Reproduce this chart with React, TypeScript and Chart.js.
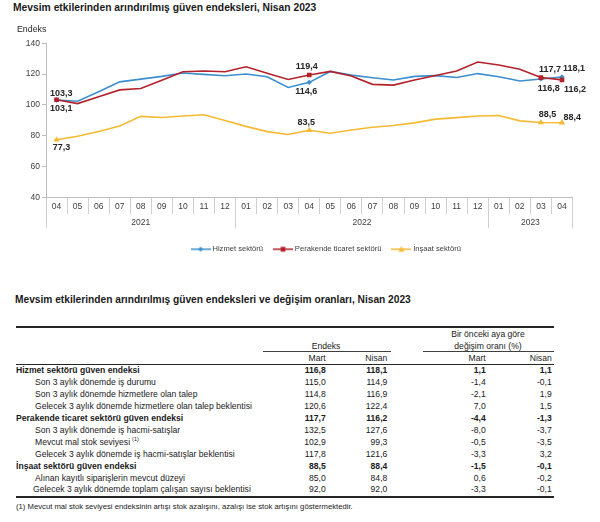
import React, { useEffect, useRef } from 'react';
import { Chart, registerables } from 'chart.js';

Chart.register(...registerables);

const FONT = '"Liberation Sans", Arial, Helvetica, sans-serif';

// ---------- chart data ----------
const MONTHS = ['04', '05', '06', '07', '08', '09', '10', '11', '12', '01', '02', '03', '04', '05', '06', '07', '08', '09', '10', '11', '12', '01', '02', '03', '04'];
const YEARS = ['2021', '2022', '2023'];
const YEAR_MONTH_COUNTS = [9, 12, 4];
const SERIES_NAMES = ['Hizmet sektörü', 'Perakende ticaret sektörü', 'İnşaat sektörü'];
const HIZMET = [103.1, 102.3, 108.5, 114.9, 116.7, 118.5, 120.7, 119.8, 118.9, 120.0, 118.2, 111.3, 114.6, 121.7, 119.3, 117.6, 116.1, 118.5, 119.0, 117.8, 120.3, 118.2, 115.5, 116.8, 118.1];
const PERAKENDE = [103.3, 100.8, 105.3, 109.7, 110.6, 116.0, 121.5, 122.0, 121.5, 124.7, 120.5, 116.5, 119.4, 121.7, 118.8, 113.3, 112.8, 116.1, 119.1, 122.0, 127.8, 125.9, 123.1, 117.7, 116.2];
const INSAAT = [77.3, 79.6, 82.7, 86.2, 92.5, 91.8, 92.7, 93.6, 89.8, 86.0, 82.6, 80.7, 83.5, 81.5, 83.7, 85.4, 86.6, 88.3, 90.7, 91.7, 92.7, 93.1, 89.6, 88.5, 88.4];
const Y_MIN = 40;
const Y_MAX = 140;
const Y_STEP = 20;
const MARKED_INDEXES = [0, 12, 23, 24];
const CHART_TITLE = 'Mevsim etkilerinden arındırılmış güven endeksleri, Nisan 2023';
const Y_AXIS_TITLE = 'Endeks';

// ---------- table data ----------
const TABLE_TITLE = 'Mevsim etkilerinden arındırılmış güven endeksleri ve değişim oranları, Nisan 2023';
const HEAD_INDEX = 'Endeks';
const HEAD_CHANGE = ['Bir önceki aya göre', 'değişim oranı (%)'];
const HEAD_MONTHS = ['Mart', 'Nisan'];
const ROW_LABELS = [
  'Hizmet sektörü güven endeksi',
  'Son 3 aylık dönemde iş durumu',
  'Son 3 aylık dönemde hizmetlere olan talep',
  'Gelecek 3 aylık dönemde hizmetlere olan talep beklentisi',
  'Perakende ticaret sektörü güven endeksi',
  'Son 3 aylık dönemde iş hacmi-satışlar',
  'Mevcut mal stok seviyesi',
  'Gelecek 3 aylık dönemde iş hacmi-satışlar beklentisi',
  'İnşaat sektörü güven endeksi',
  'Alınan kayıtlı siparişlerin mevcut düzeyi',
  'Gelecek 3 aylık dönemde toplam çalışan sayısı beklentisi',
];
const ROW_IS_TOTAL = [true, false, false, false, true, false, false, false, true, false, false];
const ROW_NOTE = ['', '', '', '', '', '', '(1)', '', '', '', ''];
const INDEX_MART = [116.8, 115.0, 114.8, 120.6, 117.7, 132.5, 102.9, 117.8, 88.5, 85.0, 92.0];
const INDEX_NISAN = [118.1, 114.9, 116.9, 122.4, 116.2, 127.6, 99.3, 121.6, 88.4, 84.8, 92.0];
const CHANGE_MART = [1.1, -1.4, -2.1, 7.0, -4.4, -8.0, -0.5, -3.3, -1.5, 0.6, -3.3];
const CHANGE_NISAN = [1.1, -0.1, 1.9, 1.5, -1.3, -3.7, -3.5, 3.2, -0.1, -0.2, -0.1];
const FOOTNOTE = '(1) Mevcut mal stok seviyesi endeksinin artışı stok azalışını, azalışı ise stok artışını göstermektedir.';

// ---------- styles ----------
const COLORS = ['#3b8fd0', '#b3222b', '#f6b932'];
const POINT_STYLES = ['rectRot', 'rect', 'triangle'];
const POINT_RADII = [2.6, 3.3, 3.6];
const DRAW_ORDER = [1, 0, 2];
const VALUE_LABELS = [
  { ds: 1, i: 0, dx: 4.8, dy: -6.3 },
  { ds: 0, i: 0, dx: 4.8, dy: 8.6 },
  { ds: 2, i: 0, dx: 5, dy: 8 },
  { ds: 1, i: 12, dx: -2.4, dy: -8.5 },
  { ds: 0, i: 12, dx: -3, dy: 9.2 },
  { ds: 2, i: 12, dx: -3, dy: -7.4 },
  { ds: 1, i: 23, dx: 9, dy: -7.8 },
  { ds: 0, i: 23, dx: 7.8, dy: 9.3 },
  { ds: 2, i: 23, dx: 6.6, dy: -7.7 },
  { ds: 0, i: 24, dx: 12, dy: -8.7 },
  { ds: 1, i: 24, dx: 13, dy: 9.3 },
  { ds: 2, i: 24, dx: 10.4, dy: -4.7 },
];
const LEGEND_SHIFT = 32;
const ROW_Y0 = 371;
const ROW_H = 11.9;
const COL_RIGHT = [325.7, 387.3, 485.7, 551.7];

const fmt = (v: number) => v.toFixed(1).replace('.', ',');

function makeIcon(color: string, style: string) {
  const c = document.createElement('canvas');
  c.width = 20;
  c.height = 8;
  const g = c.getContext('2d') as CanvasRenderingContext2D;
  g.strokeStyle = color;
  g.lineWidth = 1.5;
  g.beginPath();
  g.moveTo(0, 4);
  g.lineTo(20, 4);
  g.stroke();
  g.fillStyle = color;
  g.beginPath();
  if (style === 'rect') {
    g.rect(7.6, 1.6, 4.8, 4.8);
  } else if (style === 'rectRot') {
    g.moveTo(10, 1.4);
    g.lineTo(12.6, 4);
    g.lineTo(10, 6.6);
    g.lineTo(7.4, 4);
    g.closePath();
  } else {
    g.moveTo(10, 1);
    g.lineTo(13, 6.6);
    g.lineTo(7, 6.6);
    g.closePath();
  }
  g.fill();
  return c;
}

const valueLabelsPlugin = {
  id: 'valueLabels',
  afterDatasetsDraw(chart: any) {
    const ctx = chart.ctx;
    ctx.save();
    ctx.font = `bold 9px ${FONT}`;
    ctx.fillStyle = '#262626';
    ctx.textAlign = 'center';
    ctx.textBaseline = 'middle';
    VALUE_LABELS.forEach(({ ds, i, dx, dy }) => {
      const pt = chart.getDatasetMeta(ds).data[i];
      const v = chart.data.datasets[ds].data[i];
      if (pt) ctx.fillText(fmt(v), pt.x + dx, pt.y + dy);
    });
    ctx.restore();
  },
};

const legendShiftPlugin = {
  id: 'legendShift',
  afterLayout(chart: any) {
    const l = chart.legend;
    if (l) {
      l.left += LEGEND_SHIFT;
      l.right += LEGEND_SHIFT;
    }
  },
};

function ChartBlock() {
  const ref = useRef<HTMLCanvasElement | null>(null);
  useEffect(() => {
    if (!ref.current) return;
    const boundaries: number[] = [];
    const centers: number[] = [];
    let start = 0;
    YEAR_MONTH_COUNTS.forEach((n) => {
      boundaries.push(start - 0.5);
      centers.push((start + start + n - 1) / 2);
      start += n;
    });
    boundaries.push(start - 0.5);
    const allYearTicks = [...boundaries, ...centers].sort((a, b) => a - b);
    const isBoundary = (v: number) => boundaries.some((b) => Math.abs(b - v) < 1e-6);

    const series = [HIZMET, PERAKENDE, INSAAT];
    const icons = COLORS.map((c, i) => makeIcon(c, POINT_STYLES[i]));
    const datasets = series.map((data, k) => ({
      label: SERIES_NAMES[k],
      data,
      borderColor: COLORS[k],
      backgroundColor: COLORS[k],
      borderWidth: 1.6,
      pointStyle: POINT_STYLES[k],
      pointRadius: data.map((_, i) => (MARKED_INDEXES.includes(i) ? POINT_RADII[k] : 0)),
      pointHoverRadius: 0,
      pointBorderWidth: 0,
      tension: 0,
      order: DRAW_ORDER[k],
      xAxisID: 'x',
      yAxisID: 'y',
    }));

    const chart = new Chart(ref.current, {
      type: 'line',
      data: { labels: MONTHS, datasets },
      plugins: [valueLabelsPlugin, legendShiftPlugin],
      options: {
        responsive: false,
        animation: false,
        events: [],
        layout: { padding: { left: 17, right: 27.5, top: 10.7, bottom: 2 } },
        plugins: {
          title: {
            display: true,
            text: Y_AXIS_TITLE,
            align: 'start',
            color: '#262626',
            font: { size: 8.8, weight: 'normal', family: FONT },
            padding: { top: 0, bottom: 8 },
          },
          legend: {
            position: 'bottom',
            labels: {
              usePointStyle: true,
              pointStyleWidth: 16,
              padding: 12,
              color: '#404040',
              font: { size: 7.6, family: FONT },
              generateLabels: (ch: any) =>
                ch.data.datasets.map((ds: any, i: number) => ({
                  text: ds.label,
                  pointStyle: icons[i],
                  fillStyle: COLORS[i],
                  strokeStyle: COLORS[i],
                  lineWidth: 0,
                  hidden: false,
                  datasetIndex: i,
                  fontColor: '#404040',
                })),
            },
          },
          tooltip: { enabled: false },
        },
        scales: {
          x: {
            type: 'category',
            position: 'bottom',
            weight: 0,
            offset: true,
            grid: { offset: true, drawOnChartArea: false, tickLength: 17, color: '#d0d0d0', lineWidth: 1 },
            border: { display: true, color: '#bdbdbd' },
            ticks: { padding: -12.8, autoSkip: false, maxRotation: 0, color: '#404040', font: { size: 8.5, family: FONT } },
            afterFit: (s: any) => {
              s.height = 16.6;
            },
          },
          x2: {
            type: 'linear',
            position: 'bottom',
            weight: 1,
            min: -0.5,
            max: start - 0.5,
            afterBuildTicks: (s: any) => {
              s.ticks = allYearTicks.map((v) => ({ value: v }));
            },
            grid: {
              drawOnChartArea: false,
              tickLength: 14.4,
              color: (c: any) => (c.tick && isBoundary(c.tick.value) ? '#d0d0d0' : 'rgba(0,0,0,0)'),
              tickColor: (c: any) => (c.tick && isBoundary(c.tick.value) ? '#d0d0d0' : 'rgba(0,0,0,0)'),
            },
            border: { display: false },
            ticks: {
              autoSkip: false,
              maxRotation: 0,
              padding: -10.8,
              color: '#404040',
              font: { size: 8.5, family: FONT },
              callback: (v: any) => {
                const idx = centers.findIndex((c) => Math.abs(c - Number(v)) < 1e-6);
                return idx >= 0 ? YEARS[idx] : '';
              },
            },
            afterFit: (s: any) => {
              s.height = 19.6;
            },
          },
          y: {
            type: 'linear',
            position: 'left',
            min: Y_MIN,
            max: Y_MAX,
            grid: { drawOnChartArea: false, tickLength: 4, color: '#bdbdbd' },
            border: { display: true, color: '#bdbdbd' },
            ticks: { stepSize: Y_STEP, padding: 2, color: '#404040', font: { size: 8.5, family: FONT } },
            afterFit: (s: any) => {
              s.width = 29;
            },
          },
        },
      } as any,
    });
    return () => chart.destroy();
  }, []);
  return (
    <canvas
      ref={ref}
      width={600}
      height={251}
      style={{ position: 'absolute', left: 0, top: 14, width: 600, height: 251 }}
    />
  );
}

function Txt(props: { x: number; y: number; align?: string; size?: number; bold?: boolean; color?: string; children: any }) {
  const { x, y, align = 'left', size = 8.6, bold = false, color = '#1a1a1a', children } = props;
  const lh = Math.round(size * 1.3 * 10) / 10;
  const style: any = {
    position: 'absolute',
    top: y - lh / 2,
    fontSize: size,
    lineHeight: `${lh}px`,
    fontWeight: bold ? 'bold' : 'normal',
    whiteSpace: 'nowrap',
    color,
  };
  if (align === 'left') style.left = x;
  else if (align === 'right') style.right = 600 - x;
  else {
    style.left = x - 150;
    style.width = 300;
    style.textAlign = 'center';
  }
  return <div style={style}>{children}</div>;
}

function Line(props: { x1: number; x2: number; y: number; h?: number; color?: string }) {
  const { x1, x2, y, h = 1, color = '#262626' } = props;
  return <div style={{ position: 'absolute', left: x1, top: y - h / 2, width: x2 - x1, height: h, background: color }} />;
}

function TableBlock() {
  return (
    <>
      <Txt x={15} y={300} size={10.2} bold color="#1a1a1a">{TABLE_TITLE}</Txt>
      <Line x1={16} x2={554} y={326.7} h={1.7} />
      <Txt x={488} y={335} align="center">{HEAD_CHANGE[0]}</Txt>
      <Txt x={488} y={346.7} align="center">{HEAD_CHANGE[1]}</Txt>
      <Txt x={326} y={346.7} align="center">{HEAD_INDEX}</Txt>
      <Line x1={263} x2={390.7} y={351.7} h={1} color="#404040" />
      <Line x1={422.7} x2={554} y={351.7} h={1} color="#404040" />
      <Txt x={COL_RIGHT[0]} y={358.3} align="right">{HEAD_MONTHS[0]}</Txt>
      <Txt x={COL_RIGHT[1]} y={358.3} align="right">{HEAD_MONTHS[1]}</Txt>
      <Txt x={COL_RIGHT[2]} y={358.3} align="right">{HEAD_MONTHS[0]}</Txt>
      <Txt x={COL_RIGHT[3]} y={358.3} align="right">{HEAD_MONTHS[1]}</Txt>
      <Line x1={16} x2={554} y={364.3} h={1.2} />
      {ROW_LABELS.map((label, i) => {
        const y = ROW_Y0 + i * ROW_H;
        const bold = ROW_IS_TOTAL[i];
        const x = bold ? 16 : i === ROW_LABELS.length - 1 ? 33 : 35;
        const vals = [INDEX_MART[i], INDEX_NISAN[i], CHANGE_MART[i], CHANGE_NISAN[i]];
        return (
          <React.Fragment key={i}>
            <Txt x={x} y={y} bold={bold}>
              {label}
              {ROW_NOTE[i] ? (
                <span style={{ fontSize: 5.5, position: 'relative', top: -3.5, marginLeft: 2 }}>{ROW_NOTE[i]}</span>
              ) : null}
            </Txt>
            {vals.map((v, k) => (
              <Txt key={k} x={COL_RIGHT[k]} y={y} align="right" bold={bold}>
                {fmt(v)}
              </Txt>
            ))}
          </React.Fragment>
        );
      })}
      <Line x1={16} x2={554} y={496.7} h={1.7} />
      <Txt x={16} y={506.7} size={7.7}>{FOOTNOTE}</Txt>
    </>
  );
}

export default function App() {
  return (
    <div
      style={{
        position: 'absolute',
        left: 0,
        top: 0,
        width: 600,
        height: 522,
        overflow: 'hidden',
        background: '#ffffff',
        fontFamily: FONT,
      }}
    >
      <Txt x={13} y={7.5} size={10.3} bold>{CHART_TITLE}</Txt>
      <ChartBlock />
      <TableBlock />
    </div>
  );
}
